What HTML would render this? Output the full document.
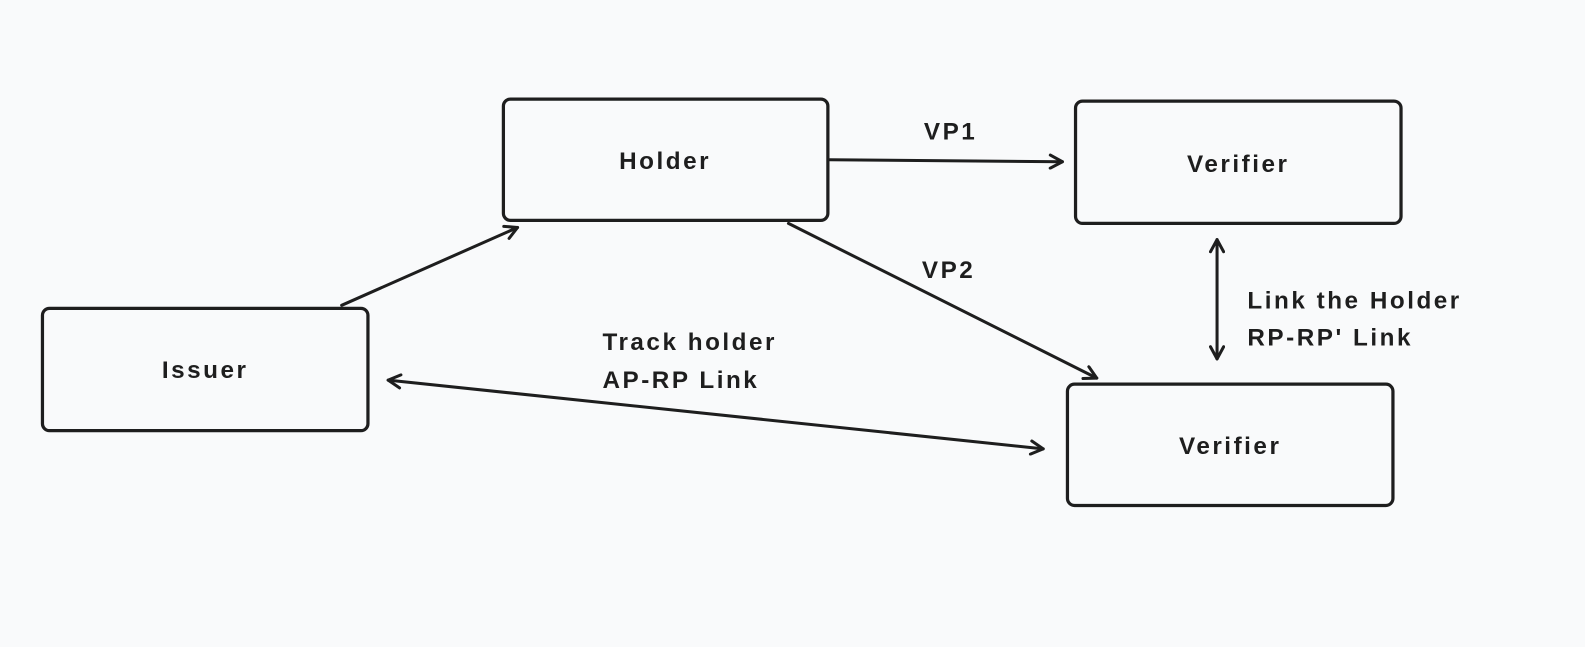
<!DOCTYPE html>
<html><head><meta charset="utf-8"><style>
html,body{margin:0;padding:0;background:#f9fafb;}
svg{display:block}
text{font-family:"Liberation Sans",sans-serif;font-size:24px;fill:#1e1e1e;font-weight:bold;letter-spacing:2.5px}
</style></head><body>
<svg width="1585" height="647" viewBox="0 0 1568 640" preserveAspectRatio="none">
<rect width="1568" height="640" fill="#f9fafb"/>
<defs>
<marker id="a" viewBox="0 0 16 16" refX="14" refY="8" markerWidth="16" markerHeight="16" markerUnits="userSpaceOnUse" orient="auto-start-reverse">
<path d="M2,1.5 L14,8 L2,14.5" fill="none" stroke="#1e1e1e" stroke-width="3" stroke-linecap="round" stroke-linejoin="round"/>
</marker>
</defs>
<g fill="none" stroke="#1e1e1e" stroke-width="3.2">
<rect x="498" y="98" width="321" height="120" rx="7"/>
<rect x="1064" y="100" width="322" height="121" rx="7"/>
<rect x="42" y="305" width="322" height="121" rx="7"/>
<rect x="1056" y="380" width="322" height="120" rx="7"/>
<g stroke-width="3" stroke-linecap="round" marker-end="url(#a)">
<line x1="821" y1="158" x2="1051" y2="160"/>
<line x1="338" y1="302" x2="512" y2="225"/>
<line x1="780" y1="221" x2="1085" y2="374"/>
<line x1="384" y1="376" x2="1032" y2="444" marker-start="url(#a)"/>
<line x1="1204" y1="237" x2="1204" y2="355" marker-start="url(#a)"/>
</g>
</g>
<text x="658" y="167" text-anchor="middle">Holder</text>
<text x="1225" y="170" text-anchor="middle">Verifier</text>
<text x="203" y="374" text-anchor="middle">Issuer</text>
<text x="1217" y="449" text-anchor="middle">Verifier</text>
<text x="914" y="138">VP1</text>
<text x="912" y="275">VP2</text>
<text x="596" y="346">Track holder</text>
<text x="596" y="384">AP-RP Link</text>
<text x="1234" y="305">Link the Holder</text>
<text x="1234" y="342">RP-RP' Link</text>
</svg>
</body></html>
